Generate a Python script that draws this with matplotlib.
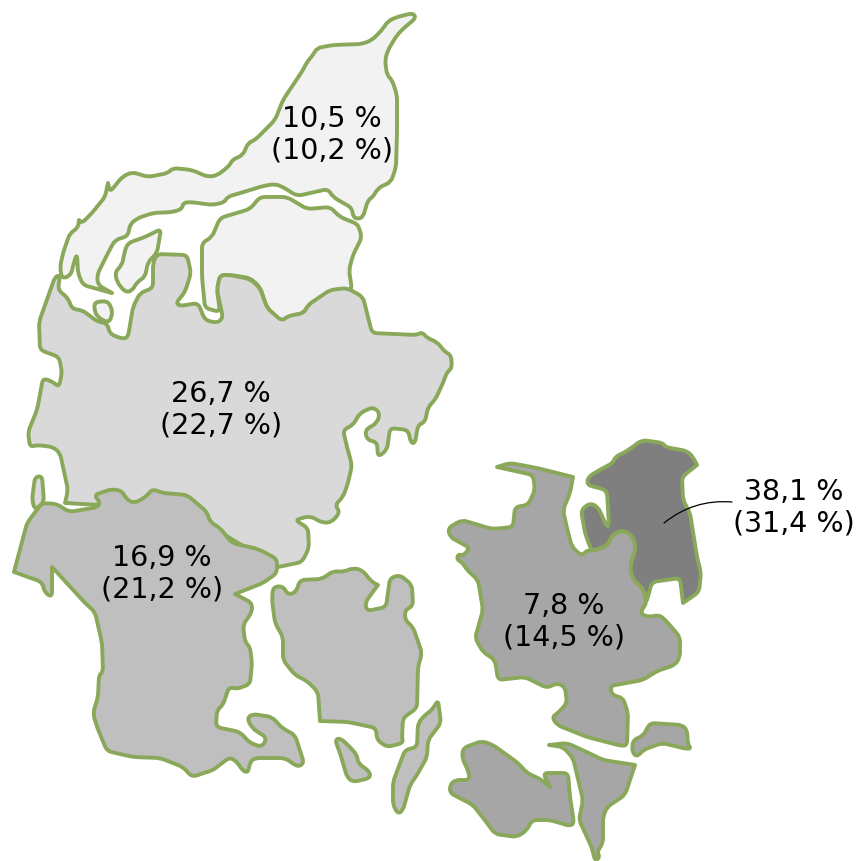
import matplotlib
matplotlib.use('Agg')
import matplotlib.pyplot as plt
from matplotlib.path import Path
from matplotlib.patches import PathPatch

# Outlines, in picture units
vendsyssel = [(413,13),(416,18),(405,27),(397,35),(388,50),(385,60),(387,75),(392,80),(397,95),(397,133),(396,167),(391,182),(378,188),(373,197),(368,200),(363,217),(358,219),(353,217),(352,208),(333,197),(328,189),(297,196),(283,187),(275,184),(263,186),(247,191),(227,197),(225,202),(213,205),(190,202),(183,203),(182,209),(173,212),(153,213),(138,218),(130,224),(128,236),(115,240),(108,253),(97,275),(98,285),(112,293),(112,293),(83,285),(78,273),(77,254),(74,262),(71,275),(62,279),(60,267),(63,253),(70,233),(78,228),(79,220),(79,220),(82,223),(92,213),(100,203),(105,197),(108,183),(108,183),(110,192),(122,177),(132,172),(148,177),(168,173),(173,168),(192,170),(208,177),(218,175),(230,165),(232,160),(243,155),(248,143),(255,140),(267,128),(275,120),(283,100),(293,85),(303,70),(307,62),(313,55),(317,48),(333,45),(362,44),(372,40),(382,30),(388,21),(397,17)]
mors = [(128,243),(145,237),(161,229),(157,253),(148,262),(145,277),(137,282),(132,291),(125,292),(117,282),(115,272),(122,265),(125,250)]
himmerland = [(358,225),(362,237),(353,255),(349,270),(352,290),(333,290),(308,305),(304,313),(288,317),(282,322),(267,308),(260,287),(250,278),(230,275),(220,275),(217,290),(220,312),(205,308),(202,277),(202,243),(212,237),(220,218),(250,209),(260,197),(287,197),(307,209),(330,207),(340,217),(355,223)]
nord_islet = [(95,302),(108,301),(113,312),(109,323),(97,317),(94,308)]
midt_main = [(157,254),(187,255),(191,273),(185,292),(176,303),(180,306),(198,303),(205,320),(217,323),(223,318),(217,290),(220,275),(230,275),(250,279),(260,288),(267,308),(282,321),(288,316),(304,313),(308,305),(330,290),(347,288),(363,297),(372,333),(417,335),(422,332),(427,338),(437,342),(445,352),(451,355),(452,368),(447,372),(443,383),(435,400),(428,407),(425,422),(418,425),(415,443),(411,443),(408,430),(390,428),(387,450),(378,457),(377,442),(367,440),(365,430),(377,423),(380,413),(373,407),(360,413),(353,425),(343,430),(347,447),(352,465),(348,483),(343,497),(335,505),(340,512),(332,522),(323,523),(310,516),(295,520),(308,528),(309,548),(302,562),(278,567),(278,567),(200,520),(100,505),(65,503),(65,503),(68,490),(60,453),(53,447),(37,445),(30,447),(28,432),(37,410),(39,400),(43,378),(53,382),(59,387),(62,372),(59,357),(40,350),(39,322),(55,277),(60,275),(58,290),(68,298),(72,309),(82,310),(98,322),(107,323),(110,334),(123,339),(128,337),(133,307),(140,293),(153,288),(153,263)]
fano = [(35,477),(42,476),(44,502),(35,510),(32,500)]
syd_main = [(42,503),(57,504),(69,512),(98,507),(100,502),(94,495),(112,489),(122,491),(127,500),(135,503),(147,496),(152,489),(163,493),(187,495),(207,512),(210,522),(220,528),(232,543),(258,549),(277,559),(277,573),(263,583),(235,594),(235,594),(252,603),(252,612),(243,625),(245,642),(250,647),(252,663),(250,684),(237,689),(229,687),(223,705),(217,710),(216,727),(240,732),(250,743),(262,747),(267,738),(252,728),(247,718),(253,714),(272,717),(282,728),(295,735),(304,763),(298,767),(285,758),(255,758),(250,762),(248,773),(242,770),(238,763),(230,757),(217,767),(213,770),(192,777),(183,767),(160,758),(133,757),(107,751),(97,727),(93,713),(98,697),(99,675),(103,672),(102,643),(95,612),(85,603),(75,592),(52,567),(52,567),(52,597),(45,593),(42,582),(14,572),(14,572),(27,523)]
fyn = [(273,587),(283,586),(288,595),(296,592),(300,580),(322,579),(333,571),(343,572),(353,568),(362,570),(372,582),(378,585),(378,585),(372,593),(365,603),(367,611),(386,607),(390,578),(400,575),(412,585),(413,606),(405,610),(405,620),(413,627),(422,653),(418,667),(417,708),(403,718),(402,737),(403,743),(387,747),(377,740),(376,728),(348,722),(320,721),(320,721),(318,692),(307,681),(295,675),(283,660),(283,637),(275,623),(272,600)]
taasinge = [(335,740),(340,738),(348,745),(357,755),(358,763),(370,772),(370,778),(353,782),(347,777),(340,753)]
langeland = [(438,700),(441,723),(428,740),(427,757),(417,775),(410,785),(403,810),(398,814),(393,805),(393,782),(405,750),(417,747),(418,723),(425,715),(432,710)]
sjaelland = [(497,467),(497,467),(510,463),(537,468),(573,477),(573,477),(570,493),(563,510),(567,528),(572,547),(582,556),(587,550),(593,551),(608,545),(612,535),(622,530),(632,535),(636,547),(630,567),(633,580),(642,587),(647,602),(640,613),(647,617),(660,615),(668,623),(680,637),(680,657),(675,665),(657,671),(643,680),(610,686),(612,695),(623,698),(628,713),(627,745),(622,746),(587,737),(557,725),(552,717),(558,713),(567,703),(565,687),(557,683),(547,688),(525,677),(498,680),(495,660),(483,652),(475,638),(483,610),(478,580),(467,570),(462,562),(457,560),(458,554),(463,556),(470,548),(450,537),(448,528),(462,520),(492,529),(513,527),(515,507),(528,505),(535,490),(533,475)]
lolland = [(463,748),(482,741),(493,745),(518,763),(527,773),(542,780),(550,787),(550,787),(543,773),(568,773),(570,797),(574,823),(570,826),(550,820),(532,820),(527,830),(517,837),(495,834),(487,823),(473,805),(450,793),(450,785),(455,780),(470,780),(468,770),(462,758)]
falster = [(549,745),(549,745),(567,743),(593,755),(603,760),(635,765),(635,765),(625,795),(607,807),(603,817),(603,843),(597,852),(600,857),(595,861),(592,848),(587,837),(579,820),(583,800),(573,758),(563,747)]
moen = [(633,740),(643,736),(650,723),(682,725),(687,730),(688,745),(691,748),(687,749),(662,743),(643,750),(637,757),(632,752)]
hovedstaden = [(587,485),(588,477),(603,468),(613,463),(615,457),(627,451),(642,440),(663,443),(665,447),(687,451),(693,457),(697,465),(697,465),(682,477),(683,500),(690,513),(697,557),(701,573),(699,592),(683,603),(683,603),(680,578),(652,582),(647,600),(647,600),(642,587),(633,580),(630,567),(636,547),(632,535),(622,530),(612,535),(608,545),(593,551),(590,547),(585,533),(581,510),(590,503),(598,507),(607,527),(609,525),(607,492),(603,489)]

# Regions, this year's share and (last year's share)
nord_shapes = [vendsyssel, himmerland, mors, nord_islet]
midt_shapes = [midt_main, fano]
syd_shapes = [syd_main, fyn, taasinge, langeland]
sjaelland_shapes = [sjaelland, lolland, falster, moen]
hoved_shapes = [hovedstaden]

region_shapes = [nord_shapes, midt_shapes, syd_shapes, sjaelland_shapes, hoved_shapes]
region_colors = ['#f2f2f2', '#d9d9d9', '#bfbfbf', '#a6a6a6', '#7f7f7f']

shares = ['10,5 %', '26,7 %', '16,9 %', '7,8 %', '38,1 %']
shares_prev = ['10,2 %', '22,7 %', '21,2 %', '14,5 %', '31,4 %']
label_x = [332, 221, 162, 564, 794]
label_y = [135, 410, 574, 622, 508]


def toward(p, q, r=5):
    # point on p-q at most r away from p (half way at the most)
    d = ((q[0] - p[0]) ** 2 + (q[1] - p[1]) ** 2) ** 0.5
    if d == 0:
        return p
    t = min(r / d, 0.5)
    return (p[0] + (q[0] - p[0]) * t, p[1] + (q[1] - p[1]) * t)


def outline(shape):
    # straight coast with slightly rounded corners
    verts = []
    codes = []
    n = len(shape)
    for i, p in enumerate(shape):
        verts += [toward(p, shape[i - 1]), p, toward(p, shape[(i + 1) % n])]
        codes += [Path.MOVETO if i == 0 else Path.LINETO, Path.CURVE3, Path.CURVE3]
    verts.append(verts[0])
    codes.append(Path.LINETO)
    return Path(verts, codes)


fig = plt.figure(figsize=(8.58, 8.61), dpi=100)
ax = fig.add_axes([0, 0, 1, 1])
ax.set_xlim(0, 858)
ax.set_ylim(861, 0)
ax.axis('off')

for shapes, col in zip(region_shapes, region_colors):
    for shape in shapes:
        ax.add_patch(PathPatch(outline(shape), facecolor=col, edgecolor='#8aa85a',
                               linewidth=2.8, joinstyle='round'))

for x, y, a, b in zip(label_x, label_y, shares, shares_prev):
    ax.text(x, y, a + '\n(' + b + ')', ha='center', va='center', fontsize=20.5,
            family='DejaVu Sans', color='black', linespacing=1.15)

# leader line for Hovedstaden
ax.annotate('', xy=(664, 523), xytext=(732, 502),
            arrowprops=dict(arrowstyle='-', color='black', linewidth=0.9,
                            shrinkA=0, shrinkB=0, connectionstyle='arc3,rad=0.2'))

fig.savefig('out.png', dpi=100)
